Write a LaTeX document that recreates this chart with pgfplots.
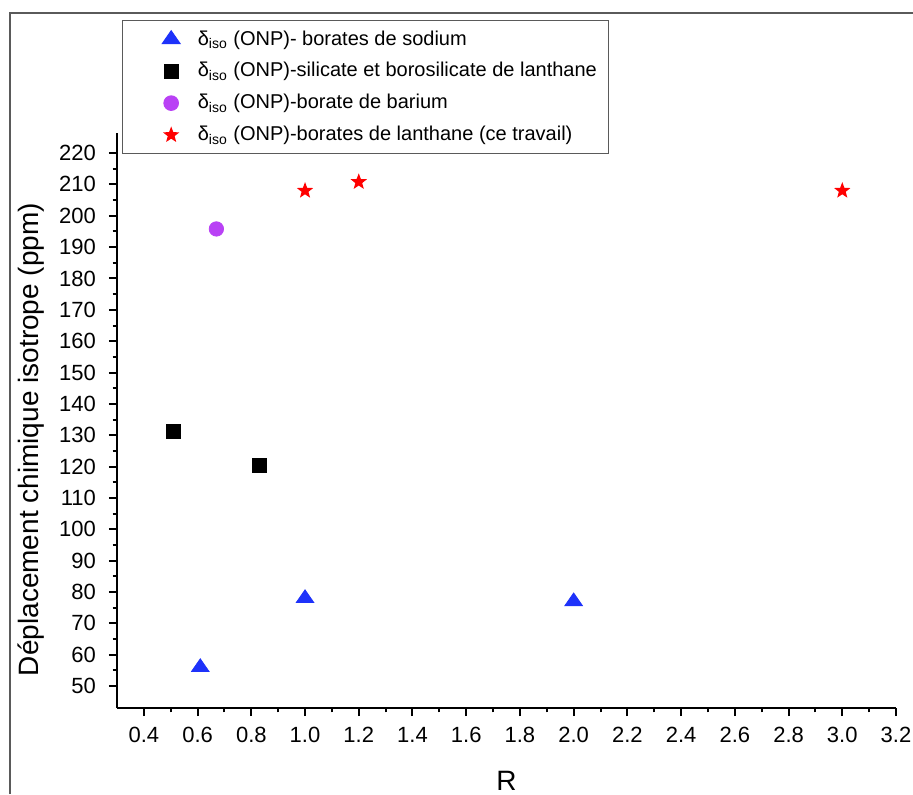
\documentclass[border=0pt]{standalone}
\usepackage{fontspec}
\setmainfont{Liberation Sans}
\usepackage{pgfplots}
\pgfplotsset{compat=1.18}
\definecolor{triblue}{RGB}{30,50,250}
\definecolor{cpurple}{RGB}{185,65,245}
\definecolor{sred}{RGB}{255,0,0}
\definecolor{framegray}{RGB}{90,90,90}
\pgfdeclareplotmark{fstar}{%
  \pgfpathmoveto{\pgfpointpolar{90}{\pgfplotmarksize}}%
  \pgfpathlineto{\pgfpointpolar{126}{0.42\pgfplotmarksize}}%
  \pgfpathlineto{\pgfpointpolar{162}{\pgfplotmarksize}}%
  \pgfpathlineto{\pgfpointpolar{198}{0.42\pgfplotmarksize}}%
  \pgfpathlineto{\pgfpointpolar{234}{\pgfplotmarksize}}%
  \pgfpathlineto{\pgfpointpolar{270}{0.42\pgfplotmarksize}}%
  \pgfpathlineto{\pgfpointpolar{306}{\pgfplotmarksize}}%
  \pgfpathlineto{\pgfpointpolar{342}{0.42\pgfplotmarksize}}%
  \pgfpathlineto{\pgfpointpolar{18}{\pgfplotmarksize}}%
  \pgfpathlineto{\pgfpointpolar{54}{0.42\pgfplotmarksize}}%
  \pgfpathclose
  \pgfusepathqfill}
\begin{document}
\begin{tikzpicture}
\useasboundingbox (-58.5pt,-43pt) rectangle (398pt,354pt);
\draw[framegray, line width=0.7pt] (-53.5pt,-43pt) -- (-53.5pt,347.5pt) -- (398pt,347.5pt);
\begin{axis}[
  at={(0pt,0pt)}, anchor=south west, scale only axis,
  width=389.5pt, height=287.5pt,
  xmin=0.3, xmax=3.2, ymin=43, ymax=226.4,
  axis x line*=bottom, axis y line*=left,
  axis line style={line width=1pt, black},
  xtick={0.4,0.6,0.8,1.0,1.2,1.4,1.6,1.8,2.0,2.2,2.4,2.6,2.8,3.0,3.2},
  ytick={50,60,70,80,90,100,110,120,130,140,150,160,170,180,190,200,210,220},
  minor x tick num=1, minor y tick num=1,
  tick align=outside,
  major tick length=4pt, minor tick length=2.2pt,
  every tick/.style={black, line width=1pt},
  /pgf/number format/assume math mode=true,
  tick label style={font=\fontsize{11}{13}\selectfont},
  x tick label style={yshift=-2pt, /pgf/number format/.cd, fixed, fixed zerofill, precision=1},
  y tick label style={xshift=-3pt},
  xlabel={R},
  ylabel={Déplacement chimique isotrope (ppm)},
  label style={font=\fontsize{14}{16}\selectfont},
  xlabel style={at={(axis description cs:0.5,-0.127)}, anchor=center},
  ylabel style={at={(axis description cs:-0.1104,0.467)}, anchor=center},
  legend cell align=left,
  legend image code/.code={%
    \path (0pt,0pt) (31pt,0pt);
    \draw[#1] plot coordinates {(20pt,0pt)};},
  legend style={at={(rel axis cs:0.0064,1.1965)}, anchor=north west,
    draw=framegray, line width=0.6pt, fill=white,
    font=\fontsize{10}{12}\selectfont, row sep=3.2pt, inner xsep=4pt, inner ysep=3pt},
]
\addplot[only marks, mark=triangle*, mark size=4.2pt, color=triblue, mark options={xscale=1.2}]
  coordinates {(0.61,56) (1.0,78) (2.0,77)};
\addlegendentry{δ\textsubscript{iso} (ONP)- borates de sodium}
\addplot[only marks, mark=square*, mark size=3.5pt, color=black]
  coordinates {(0.51,131.3) (0.83,120.4)};
\addlegendentry{δ\textsubscript{iso} (ONP)-silicate et borosilicate de lanthane}
\addplot[only marks, mark=*, mark size=3.6pt, color=cpurple]
  coordinates {(0.67,195.8)};
\addlegendentry{δ\textsubscript{iso} (ONP)-borate de barium}
\addplot[only marks, mark=fstar, mark size=4.3pt, color=sred]
  coordinates {(1.0,208) (1.2,210.8) (3.0,208)};
\addlegendentry{δ\textsubscript{iso} (ONP)-borates de lanthane (ce travail)}
\end{axis}
\end{tikzpicture}
\end{document}
